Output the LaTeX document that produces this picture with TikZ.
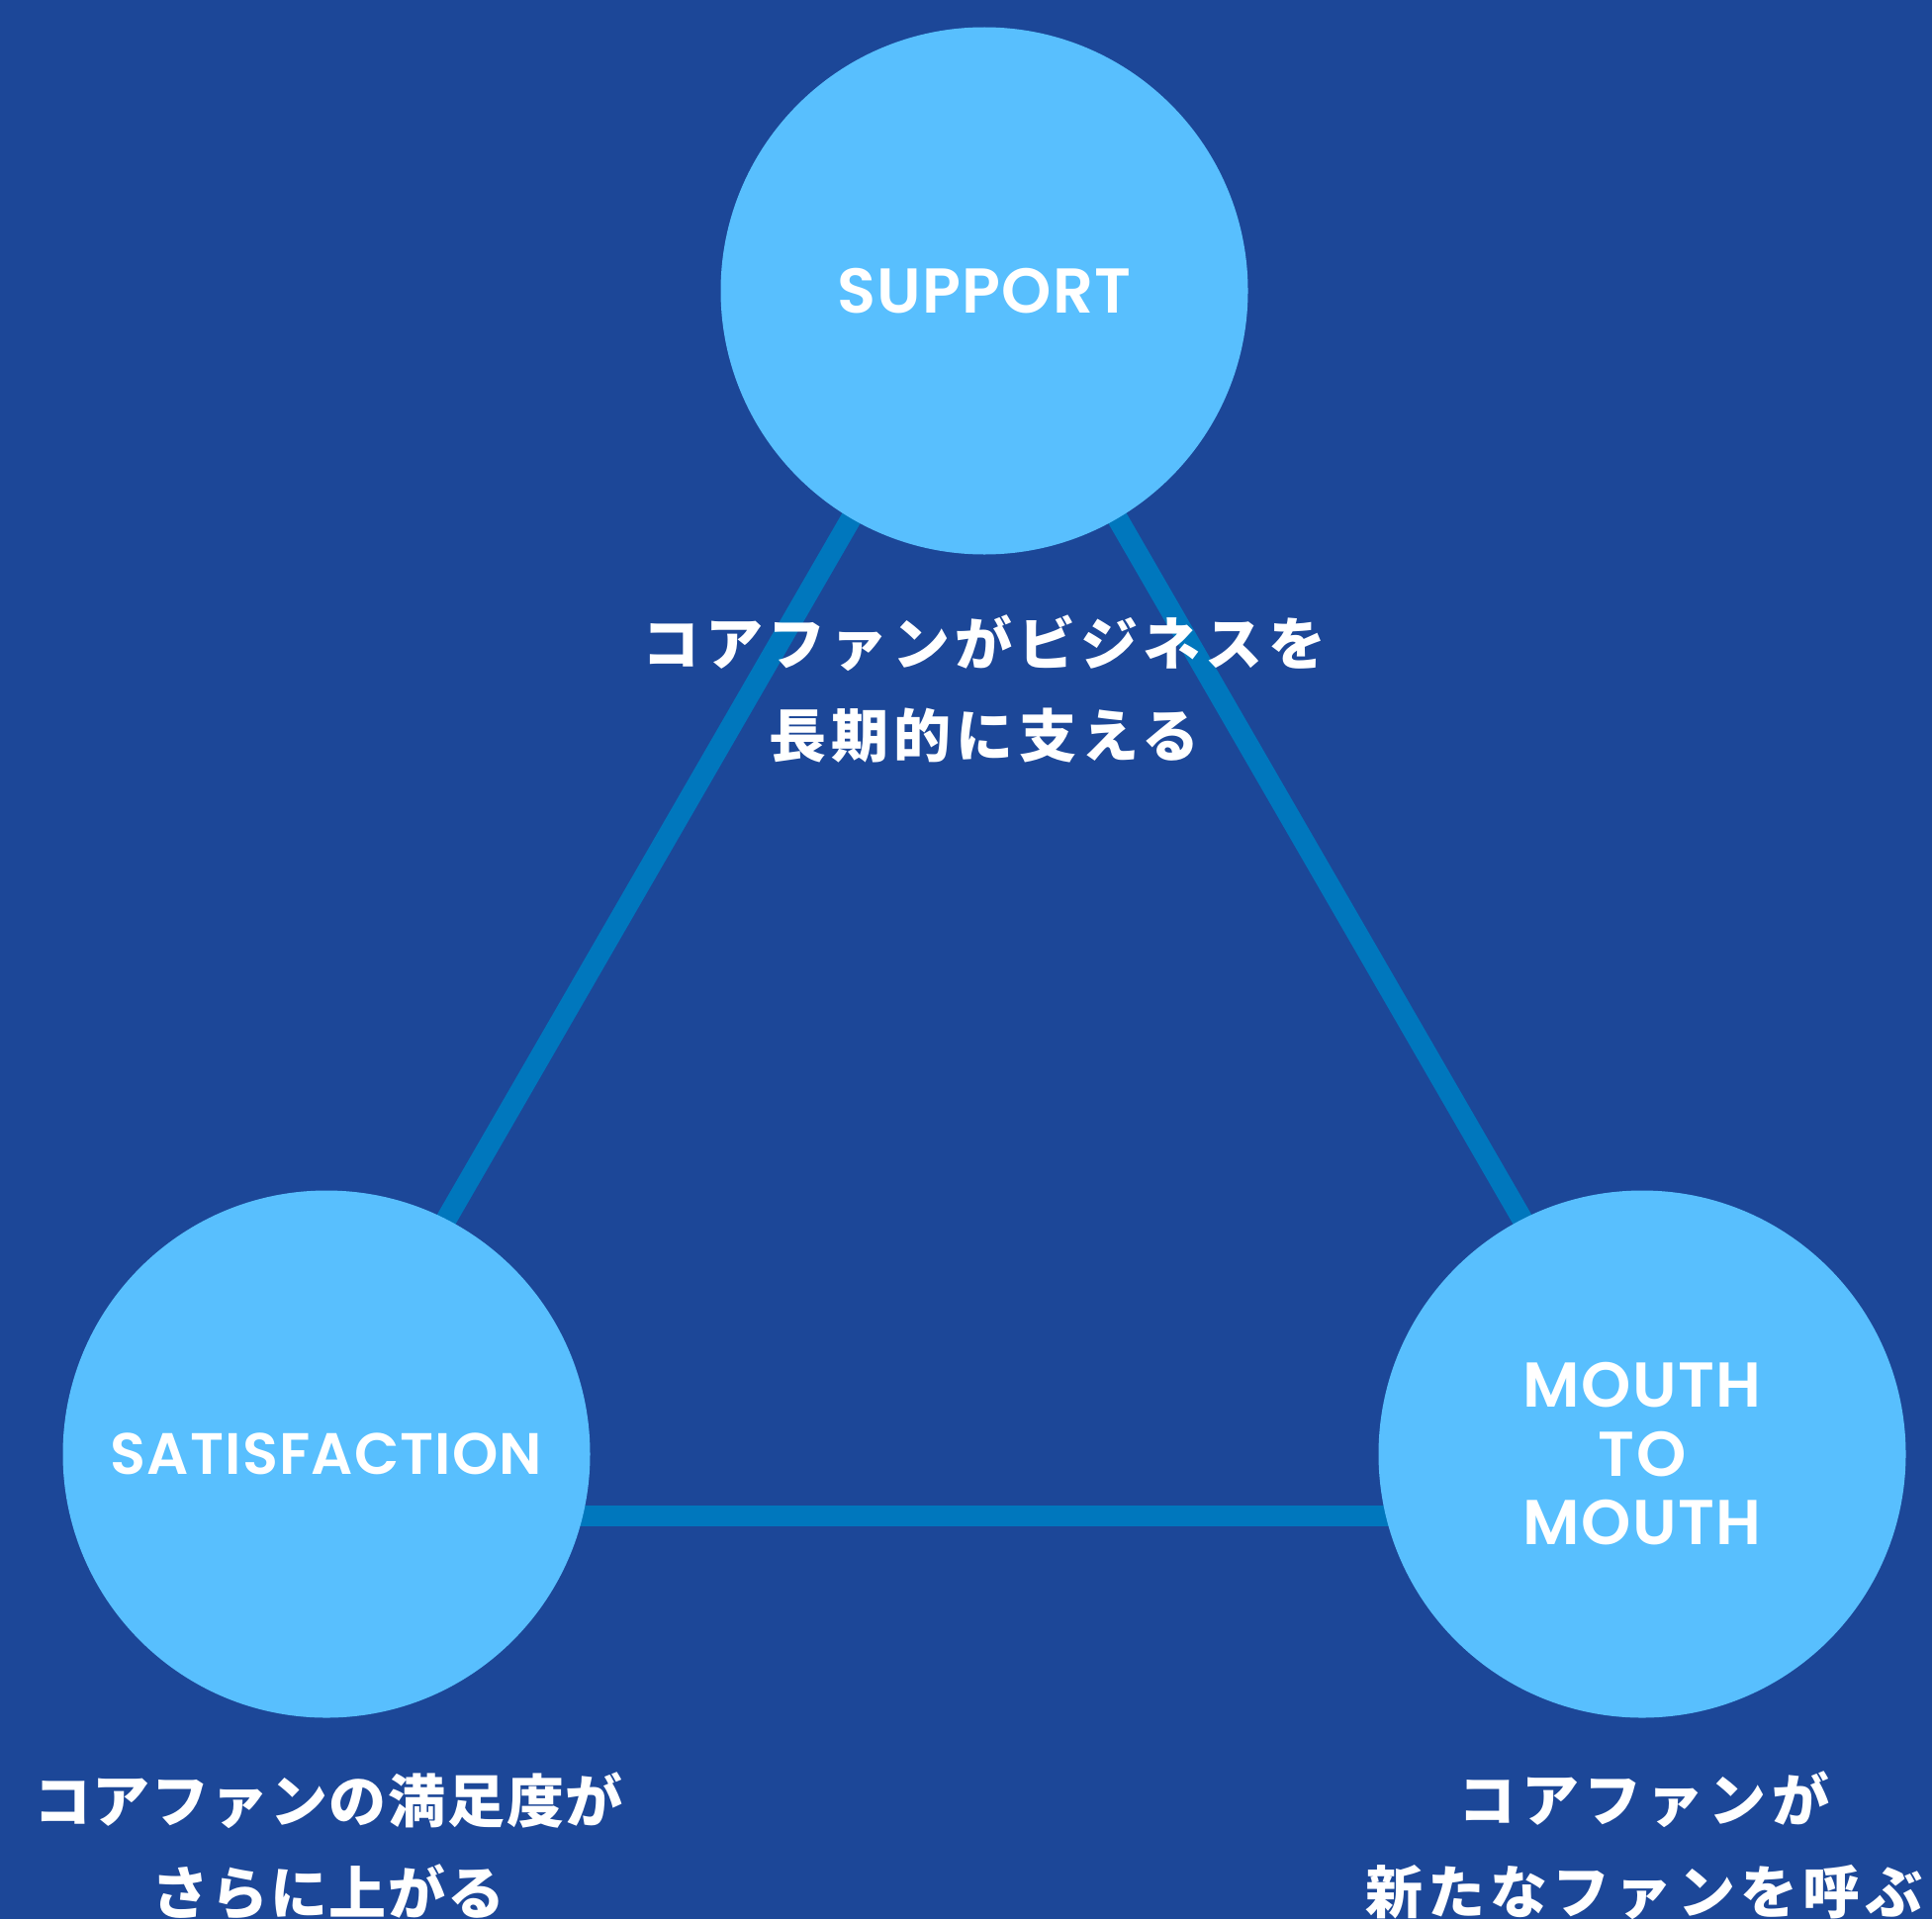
\documentclass[tikz,border=0pt]{standalone}
\usepackage{fontspec}
\newfontfamily\pop[LetterSpace=2]{Poppins SemiBold}
\newfontfamily\jp[LetterSpace=9]{Noto Sans CJK JP}
\newfontfamily\jpn[LetterSpace=3]{Noto Sans CJK JP}
\definecolor{bg}{RGB}{28,71,152}
\definecolor{disc}{RGB}{88,191,254}
\definecolor{edge}{RGB}{0,119,189}
\begin{document}
\begin{tikzpicture}[x=1pt,y=-1pt,
  disc/.style={circle,fill=disc,minimum size=533pt,inner sep=0pt,text=white,
    font=\pop\fontsize{64}{69.5}\selectfont,align=center},
  link/.style={draw=edge,line width=21pt},
  jlabel/.style={text=white,font=\jp\bfseries\fontsize{58}{93}\selectfont,align=center,inner sep=0pt}]
  \fill[bg] (0,0) rectangle (1953,1940);
  \useasboundingbox (0,0) rectangle (1953,1940);
  \clip (0,0) rectangle (1953,1940);
  \coordinate (apex) at (995,291);
  \coordinate (bl) at (278,1532.5);
  \coordinate (br) at (1712,1532.5);
  \draw[link] (apex) -- (bl);
  \draw[link] (apex) -- (br);
  \draw[link] (bl) -- (br);
  \node[disc] (sup) at (995,294) {SUPPORT};
  \node[disc,font=\pop\fontsize{59}{69.5}\selectfont] (sat) at (330,1470) {SATISFACTION};
  \node[disc] (mtm) at (1660,1470) {MOUTH\\TO\\MOUTH};
  \node[jlabel] (tsup) at (995,696) {コアファンがビジネスを\\長期的に支える};
  \node[jlabel,font=\jpn\bfseries\fontsize{58}{93}\selectfont] (tsat) at (332,1866) {コアファンの満足度が\\さらに上がる};
  \node[jlabel] (tmtm) at (1662,1866) {コアファンが\\新たなファンを呼ぶ};
\end{tikzpicture}
\end{document}
